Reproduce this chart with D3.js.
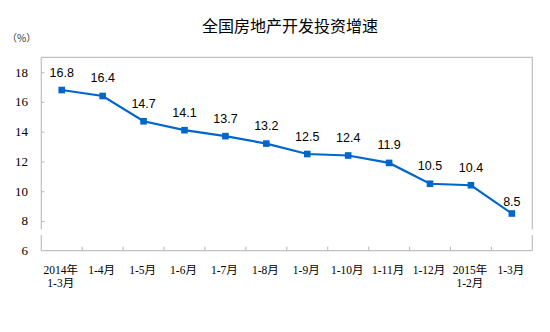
<!DOCTYPE html>
<html>
<head>
<meta charset="utf-8">
<script src="https://cdn.jsdelivr.net/npm/d3@7/dist/d3.min.js"></script>
<style>
  html, body { margin: 0; padding: 0; background: #fff; }
  svg { display: block; }
</style>
</head>
<body>
<script>
const categories = [
  ["2014年", "1-3月"], ["1-4月"], ["1-5月"], ["1-6月"], ["1-7月"], ["1-8月"],
  ["1-9月"], ["1-10月"], ["1-11月"], ["1-12月"], ["2015年", "1-2月"], ["1-3月"]
];
const values = [16.8, 16.4, 14.7, 14.1, 13.7, 13.2, 12.5, 12.4, 11.9, 10.5, 10.4, 8.5];
const yTicks = [6, 8, 10, 12, 14, 16, 18];
const title = "全国房地产开发投资增速";
const unit = "（%）";

(function () {
const W = 550, H = 332;
const pLeft = 41.3, pRight = 532.3, pTop = 57.3, pBottom = 250.7;
const gray = "#BFBFBF", blue = "#0066CC";

const svg = d3.select("body").append("svg").attr("width", W).attr("height", H);

const x = d3.scaleBand().domain(d3.range(categories.length)).range([pLeft, pRight]).padding(0);
const y = d3.scaleLinear().domain([6, 19]).range([pBottom, pTop]);

// title
svg.append("text").attr("x", 290).attr("y", 31.5).attr("text-anchor", "middle")
  .attr("font-family", "'Noto Sans CJK SC', sans-serif").attr("font-size", 16)
  .attr("fill", "#000").text(title);

svg.append("text").attr("x", 7).attr("y", 42).attr("font-family", "'Noto Sans CJK SC', sans-serif")
  .attr("font-size", 10).attr("fill", "#333").text(unit);

// frame: top and right with break
const breakTop = 229.5, breakBot = 235;
const frame = svg.append("g").attr("stroke", gray).attr("stroke-width", 1.2).attr("fill", "none");
frame.append("line").attr("x1", pLeft).attr("x2", pRight).attr("y1", pTop).attr("y2", pTop);
frame.append("line").attr("x1", pRight).attr("x2", pRight).attr("y1", pTop).attr("y2", breakTop);
frame.append("line").attr("x1", pRight).attr("x2", pRight).attr("y1", breakBot).attr("y2", pBottom);

// y axis
const yAxis = d3.axisRight(y).tickValues(yTicks).tickSize(3).tickFormat("");
const gy = svg.append("g").attr("transform", `translate(${pLeft},0)`).call(yAxis);
gy.select(".domain").remove();
gy.selectAll(".tick line").attr("stroke", gray).attr("stroke-width", 1.2);
gy.selectAll(".tick").filter(d => d === 6).remove();
frame.append("line").attr("x1", pLeft).attr("x2", pLeft).attr("y1", pTop).attr("y2", breakTop);
frame.append("line").attr("x1", pLeft).attr("x2", pLeft).attr("y1", breakBot).attr("y2", pBottom);

svg.append("g").selectAll("text").data(yTicks).join("text")
  .attr("x", 28).attr("y", d => y(d) + 4.5).attr("text-anchor", "end")
  .attr("font-family", "'Liberation Serif', serif").attr("font-size", 13).attr("fill", "#000")
  .text(d => d);

// x axis
frame.append("line").attr("x1", pLeft).attr("x2", pRight).attr("y1", pBottom).attr("y2", pBottom);
const boundaries = d3.range(1, categories.length).map(i => x(i));
svg.append("g").selectAll("line").data(boundaries).join("line")
  .attr("x1", d => d).attr("x2", d => d).attr("y1", pBottom).attr("y2", pBottom - 4)
  .attr("stroke", gray).attr("stroke-width", 1.2);

const xl = svg.append("g").selectAll("text").data(categories).join("text")
  .attr("text-anchor", "middle")
  .attr("font-family", "'Liberation Serif', 'Noto Sans CJK SC', serif").attr("font-size", 11.5)
  .attr("fill", "#000");
xl.each(function(d, i) {
  const t = d3.select(this);
  d.forEach((s, j) => {
    t.append("tspan").attr("x", x(i) + x.bandwidth() / 2 - 1).attr("y", 273.5 + j * 13.3).text(s);
  });
});

// line
const cx = i => x(i) + x.bandwidth() / 2;
const line = d3.line().x((d, i) => cx(i)).y(d => y(d));
svg.append("path").datum(values).attr("d", line).attr("fill", "none")
  .attr("stroke", blue).attr("stroke-width", 2.2);
svg.append("g").selectAll("rect").data(values).join("rect")
  .attr("x", (d, i) => cx(i) - 3.3).attr("y", d => y(d) - 3.3)
  .attr("width", 6.6).attr("height", 6.6).attr("fill", blue);

// labels
svg.append("g").selectAll("text").data(values).join("text")
  .attr("x", (d, i) => cx(i))
  .attr("y", (d, i) => y(d) - (i === values.length - 1 ? 8 : 13.5))
  .attr("text-anchor", "middle")
  .attr("font-family", "'Liberation Sans', Arial, sans-serif").attr("font-size", 12.5)
  .attr("fill", "#000").text(d => d.toFixed(1));
})();
</script>
</body>
</html>
